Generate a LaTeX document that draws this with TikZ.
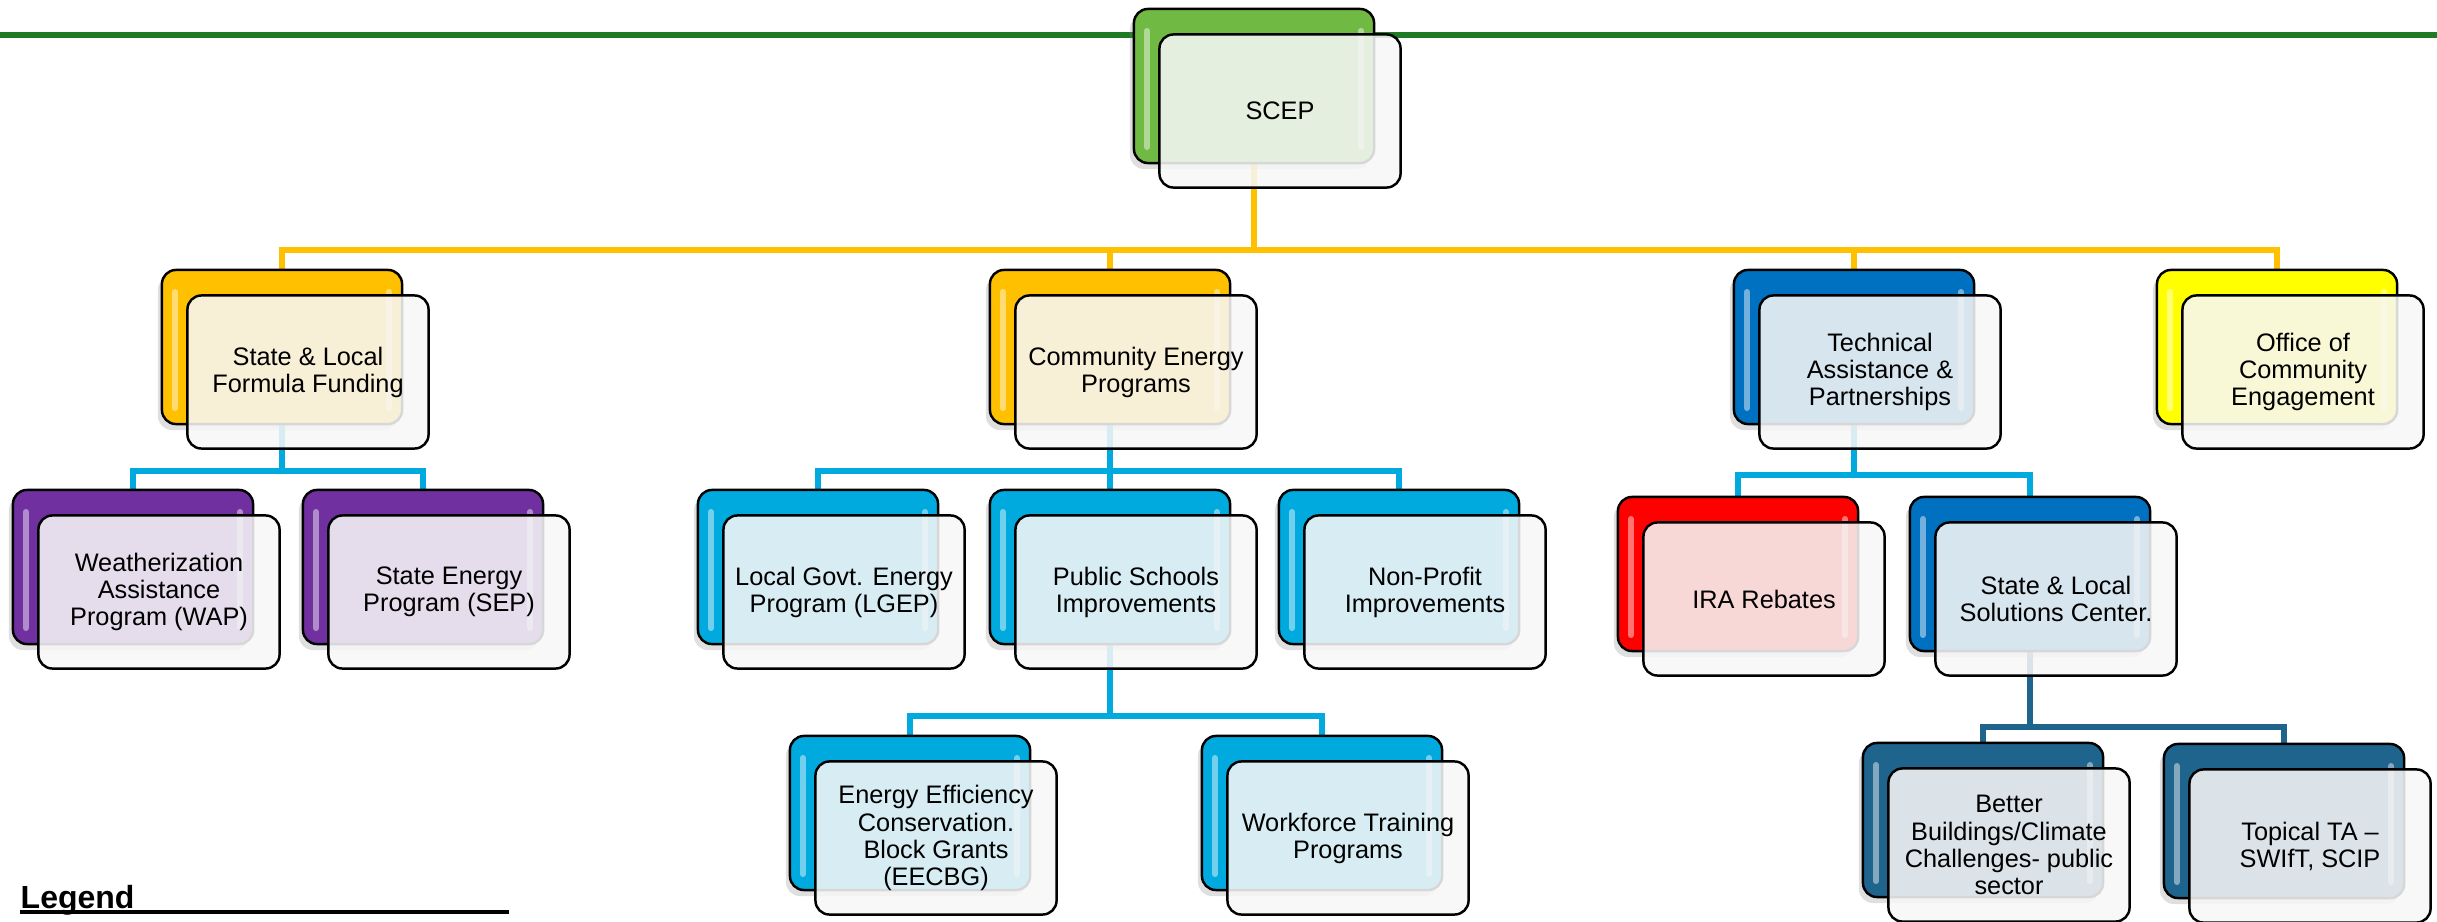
\documentclass[tikz,border=0pt]{standalone}
\usepackage{fontspec}
\setmainfont{Liberation Sans}
\usetikzlibrary{shadows,backgrounds}

\definecolor{scepgreen}{RGB}{112,186,68}
\definecolor{bargreen}{RGB}{30,122,36}
\definecolor{gold}{RGB}{255,192,0}
\definecolor{plum}{RGB}{112,48,160}
\definecolor{sky}{RGB}{0,170,222}
\definecolor{royal}{RGB}{0,112,192}
\definecolor{lemon}{RGB}{255,255,0}
\definecolor{ruby}{RGB}{255,0,0}
\definecolor{deepteal}{RGB}{31,100,140}

\tikzset{
  boxback/.style={draw=black, line width=0.7pt, rounded corners=0.14cm, fill=#1,
    minimum width=2.4cm, minimum height=1.54cm, inner sep=0pt,
    drop shadow={shadow xshift=-0.4mm, shadow yshift=-0.6mm, opacity=0.25},
    path picture={
      \draw[white, opacity=0.45, line width=1.7pt, line cap=round]
        ([xshift=0.13cm,yshift=-0.22cm]path picture bounding box.north west)
          -- ([xshift=0.13cm,yshift=0.16cm]path picture bounding box.south west)
        ([xshift=-0.13cm,yshift=-0.22cm]path picture bounding box.north east)
          -- ([xshift=-0.13cm,yshift=0.16cm]path picture bounding box.south east);
    }},
  boxfront/.style={draw=black, line width=0.7pt, rounded corners=0.14cm,
    fill=white!97!black, fill opacity=0.87, text opacity=1,
    minimum width=2.41cm, minimum height=1.53cm, inner sep=0pt, align=center,
    font=\fontsize{7.2pt}{7.7pt}\selectfont},
  link/.style={line width=1.7pt, draw=#1},
  legendtext/.style={inner sep=0pt, anchor=base west, font=\fontsize{9.1pt}{10pt}\selectfont\bfseries}
}

\begin{document}
\begin{tikzpicture}[x=0.01cm, y=-0.01cm]
  \useasboundingbox (0,0) rectangle (2437,922);

  % top of the chart
  \node[boxback=scepgreen] (scep) at (1254,86) {};
  \node[boxfront] (scep-f) at ([shift={(26,25)}]scep) {SCEP};

  % first level
  \node[boxback=gold] (fund) at (282,347) {};
  \node[boxfront] (fund-f) at ([shift={(26,25)}]fund) {State \& Local\\Formula Funding};
  \node[boxback=gold] (community) at (1110,347) {};
  \node[boxfront] (community-f) at ([shift={(26,25)}]community) {Community Energy\\Programs};
  \node[boxback=royal] (techpart) at (1854,347) {};
  \node[boxfront] (techpart-f) at ([shift={(26,25)}]techpart) {Technical\\Assistance \&\\Partnerships};
  \node[boxback=lemon] (oce) at (2277,347) {};
  \node[boxfront] (oce-f) at ([shift={(26,25)}]oce) {Office of\\Community\\Engagement};

  % formula funding programs
  \node[boxback=plum] (wap) at (133,567) {};
  \node[boxfront] (wap-f) at ([shift={(26,25)}]wap) {Weatherization\\Assistance\\Program (WAP)};
  \node[boxback=plum] (sep) at (423,567) {};
  \node[boxfront] (sep-f) at ([shift={(26,25)}]sep) {State Energy\\Program (SEP)};

  % community energy programs
  \node[boxback=sky] (lgep) at (818,567) {};
  \node[boxfront] (lgep-f) at ([shift={(26,25)}]lgep) {Local Govt. Energy\\Program (LGEP)};
  \node[boxback=sky] (schools) at (1110,567) {};
  \node[boxfront] (schools-f) at ([shift={(26,25)}]schools) {Public Schools\\Improvements};
  \node[boxback=sky] (nonprofit) at (1399,567) {};
  \node[boxfront] (nonprofit-f) at ([shift={(26,25)}]nonprofit) {Non-Profit\\Improvements};
  \node[boxback=sky] (eecbg) at (910,813) {};
  \node[boxfront] (eecbg-f) at ([shift={(26,25)}]eecbg) {Energy Efficiency\\Conservation.\\Block Grants\\(EECBG)};
  \node[boxback=sky] (workforce) at (1322,813) {};
  \node[boxfront] (workforce-f) at ([shift={(26,25)}]workforce) {Workforce Training\\Programs};

  % technical assistance
  \node[boxback=ruby] (ira) at (1738,574) {};
  \node[boxfront] (ira-f) at ([shift={(26,25)}]ira) {IRA Rebates};
  \node[boxback=royal] (slsc) at (2030,574) {};
  \node[boxfront] (slsc-f) at ([shift={(26,25)}]slsc) {State \& Local\\Solutions Center.};
  \node[boxback=deepteal] (bbcc) at (1983,820) {};
  \node[boxfront] (bbcc-f) at ([shift={(26,25)}]bbcc) {Better\\Buildings/Climate\\Challenges- public\\sector};
  \node[boxback=deepteal] (topical) at (2284,821) {};
  \node[boxfront] (topical-f) at ([shift={(26,25)}]topical) {Topical TA --\\SWIfT, SCIP};

  % legend
  \node[legendtext] (legend) at (20,908) {Legend};
  \coordinate (legend-end) at (509,912);
  \draw[line width=0.9pt] (legend.base west |- legend-end) -- (legend-end);

  % bus levels
  \coordinate (bus0) at (0,250);
  \coordinate (bus1) at (0,471);
  \coordinate (bus2) at (0,475);
  \coordinate (bus3) at (0,716);
  \coordinate (bus4) at (0,727);

  \begin{scope}[on background layer]
    % green rule across the top
    \draw[line width=1.7pt, bargreen] (0,35) -- (2437,35);

    \draw[link=gold] (scep.south) |- (fund.north |- bus0) -- (fund.north);
    \draw[link=gold] (scep.south) |- (community.north |- bus0) -- (community.north);
    \draw[link=gold] (scep.south) |- (techpart.north |- bus0) -- (techpart.north);
    \draw[link=gold] (scep.south) |- (oce.north |- bus0) -- (oce.north);

    \draw[link=sky] (fund.south) |- (wap.north |- bus1) -- (wap.north);
    \draw[link=sky] (fund.south) |- (sep.north |- bus1) -- (sep.north);

    \draw[link=sky] (community.south) |- (lgep.north |- bus1) -- (lgep.north);
    \draw[link=sky] (community.south) -- (schools.north);
    \draw[link=sky] (community.south) |- (nonprofit.north |- bus1) -- (nonprofit.north);

    \draw[link=sky] (schools.south) |- (eecbg.north |- bus3) -- (eecbg.north);
    \draw[link=sky] (schools.south) |- (workforce.north |- bus3) -- (workforce.north);

    \draw[link=sky] (techpart.south) |- (ira.north |- bus2) -- (ira.north);
    \draw[link=sky] (techpart.south) |- (slsc.north |- bus2) -- (slsc.north);

    \draw[link=deepteal] (slsc.south) |- (bbcc.north |- bus4) -- (bbcc.north);
    \draw[link=deepteal] (slsc.south) |- (topical.north |- bus4) -- (topical.north);
  \end{scope}
\end{tikzpicture}
\end{document}
